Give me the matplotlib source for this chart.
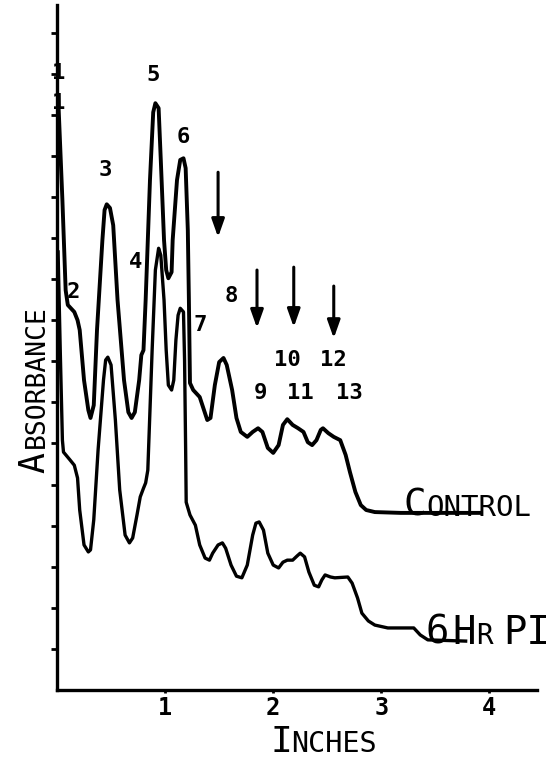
import matplotlib
matplotlib.use('Agg')
import matplotlib.pyplot as plt

# densitometer traces, x in inches, y in absorbance tick units
control_x = [0.01, 0.05, 0.08, 0.10, 0.16, 0.19, 0.21, 0.25, 0.29, 0.31, 0.34, 0.37,
             0.42, 0.44, 0.46, 0.49, 0.52, 0.56, 0.62, 0.66, 0.69, 0.72, 0.76, 0.78,
             0.80, 0.82, 0.86, 0.89, 0.91, 0.94, 0.96, 0.99, 1.01, 1.03, 1.06, 1.07,
             1.11, 1.14, 1.17, 1.19, 1.21, 1.22, 1.23, 1.26, 1.32, 1.36, 1.39, 1.42,
             1.46, 1.50, 1.54, 1.57, 1.62, 1.66, 1.70, 1.76, 1.81, 1.86, 1.90, 1.95,
             2.00, 2.05, 2.09, 2.13, 2.18, 2.23, 2.28, 2.32, 2.36, 2.40, 2.44, 2.46,
             2.51, 2.56, 2.62, 2.67, 2.71, 2.76, 2.81, 2.86, 2.94, 3.18, 3.92]
control_y = [14.48, 11.92, 9.73, 9.37, 9.20, 9.00, 8.76, 7.54, 6.81, 6.62, 6.93, 8.76,
             10.95, 11.68, 11.82, 11.73, 11.31, 9.49, 7.54, 6.76, 6.62, 6.76, 7.54, 8.15,
             8.27, 9.49, 12.41, 14.06, 14.28, 14.16, 12.90, 10.95, 10.22, 10.02, 10.17, 10.95,
             12.41, 12.90, 12.94, 12.70, 11.19, 9.49, 7.47, 7.30, 7.13, 6.81, 6.57, 6.62,
             7.42, 7.98, 8.08, 7.91, 7.30, 6.62, 6.28, 6.16, 6.28, 6.37, 6.28, 5.89,
             5.77, 5.96, 6.45, 6.59, 6.45, 6.37, 6.28, 6.03, 5.96, 6.08, 6.33, 6.37,
             6.25, 6.16, 6.08, 5.72, 5.30, 4.82, 4.50, 4.38, 4.33, 4.31, 4.31]

pi6_x = [0.01, 0.03, 0.05, 0.06, 0.12, 0.16, 0.19, 0.21, 0.25, 0.29, 0.31, 0.34,
         0.38, 0.43, 0.45, 0.47, 0.50, 0.54, 0.58, 0.63, 0.67, 0.70, 0.74, 0.77,
         0.80, 0.82, 0.84, 0.88, 0.91, 0.94, 0.96, 0.99, 1.01, 1.03, 1.06, 1.08,
         1.10, 1.12, 1.14, 1.17, 1.18, 1.19, 1.195, 1.23, 1.28, 1.32, 1.37, 1.41,
         1.44, 1.49, 1.53, 1.56, 1.61, 1.66, 1.71, 1.76, 1.81, 1.84, 1.87, 1.91,
         1.95, 2.00, 2.05, 2.09, 2.13, 2.18, 2.22, 2.25, 2.29, 2.33, 2.38, 2.42,
         2.45, 2.48, 2.53, 2.57, 2.69, 2.73, 2.78, 2.82, 2.88, 2.94, 3.06, 3.30,
         3.36, 3.43, 3.78]
pi6_y = [10.66, 8.27, 6.08, 5.79, 5.60, 5.47, 5.16, 4.38, 3.53, 3.36, 3.41, 4.14,
         5.84, 7.54, 8.03, 8.10, 7.91, 6.57, 4.87, 3.77, 3.58, 3.70, 4.26, 4.70,
         4.91, 5.04, 5.35, 8.27, 10.22, 10.75, 10.58, 9.49, 8.27, 7.42, 7.30, 7.54,
         8.52, 9.12, 9.29, 9.20, 8.03, 5.84, 4.57, 4.26, 4.01, 3.53, 3.21, 3.16,
         3.33, 3.53, 3.58, 3.45, 3.04, 2.77, 2.73, 3.04, 3.77, 4.06, 4.09, 3.89,
         3.33, 3.04, 2.97, 3.11, 3.16, 3.16, 3.26, 3.33, 3.24, 2.87, 2.55, 2.51,
         2.68, 2.80, 2.75, 2.73, 2.75, 2.60, 2.24, 1.87, 1.68, 1.58, 1.51, 1.51,
         1.34, 1.22, 1.19]

peak_labels = ['1', '1', '2', '3', '4', '5', '6', '7', '8', '9', '10', '11', '12', '13']
peak_x = [0.02, 0.02, 0.15, 0.45, 0.73, 0.89, 1.17, 1.32, 1.61, 1.88, 2.13, 2.25, 2.56, 2.70]
peak_y = [15.01, 14.28, 9.68, 12.65, 10.41, 14.96, 13.45, 8.88, 9.59, 7.23, 8.03, 7.23, 8.03, 7.23]

arrow_x = [1.49, 1.85, 2.19, 2.56]
arrow_top = [12.60, 10.22, 10.29, 9.83]
arrow_bottom = [11.02, 8.81, 8.83, 8.56]

x_ticks = [1, 2, 3, 4]
y_ticks = list(range(1, 17))

W, H = 557, 765
font = 'DejaVu Sans Mono'

fig = plt.figure(figsize=(W / 100, H / 100), dpi=100)
ax = fig.add_axes([57 / W, 75 / H, 480 / W, 685 / H])
ax.set_xlim(0, 4.44)
ax.set_ylim(0, 16.67)

ax.plot(control_x, control_y, color='black', lw=2.8, solid_joinstyle='round')
ax.plot(pi6_x, pi6_y, color='black', lw=2.4, solid_joinstyle='round')

for s, x, y in zip(peak_labels, peak_x, peak_y):
    ax.text(x, y, s, ha='center', va='center', fontsize=16, family=font, fontweight='bold')

for x, t, b in zip(arrow_x, arrow_top, arrow_bottom):
    ax.annotate('', xy=(x, b), xytext=(x, t),
                arrowprops=dict(arrowstyle='-|>,head_length=0.9,head_width=0.32',
                                color='black', lw=2.2, mutation_scale=12,
                                shrinkA=0, shrinkB=0))

for side in ['top', 'right']:
    ax.spines[side].set_visible(False)
for side in ['left', 'bottom']:
    ax.spines[side].set_linewidth(2.4)

ax.set_yticks(y_ticks)
ax.set_yticklabels([])
ax.tick_params(axis='y', direction='out', length=4, width=2)
ax.set_xticks(x_ticks)
ax.set_xticklabels([str(t) for t in x_ticks], family=font, fontsize=17, fontweight='bold')
ax.tick_params(axis='x', direction='out', length=2, width=2, pad=2)


def ftext(px, py, s, size, **kw):
    fig.text(px / W, 1 - py / H, s, fontsize=size, family=font, **kw)


# small-caps style labels: one big first letter, the rest smaller
ftext(271, 752, 'I', 26, ha='left', va='baseline')
ftext(291, 752, 'NCHES', 20.5, ha='left', va='baseline')

ftext(44, 473, 'A', 25, ha='left', va='baseline', rotation=90, rotation_mode='anchor')
ftext(44, 448, 'BSORBANCE', 19, ha='left', va='baseline', rotation=90, rotation_mode='anchor')

ftext(403, 516, 'C', 27, ha='left', va='baseline')
ftext(426, 516, 'ONTROL', 21, ha='left', va='baseline')

ftext(425, 644, '6', 28, ha='left', va='baseline')
ftext(452, 644, 'H', 28, ha='left', va='baseline')
ftext(476, 644, 'R', 20, ha='left', va='baseline')
ftext(503, 644, 'PI', 28, ha='left', va='baseline')

fig.savefig('out.png', dpi=100)
